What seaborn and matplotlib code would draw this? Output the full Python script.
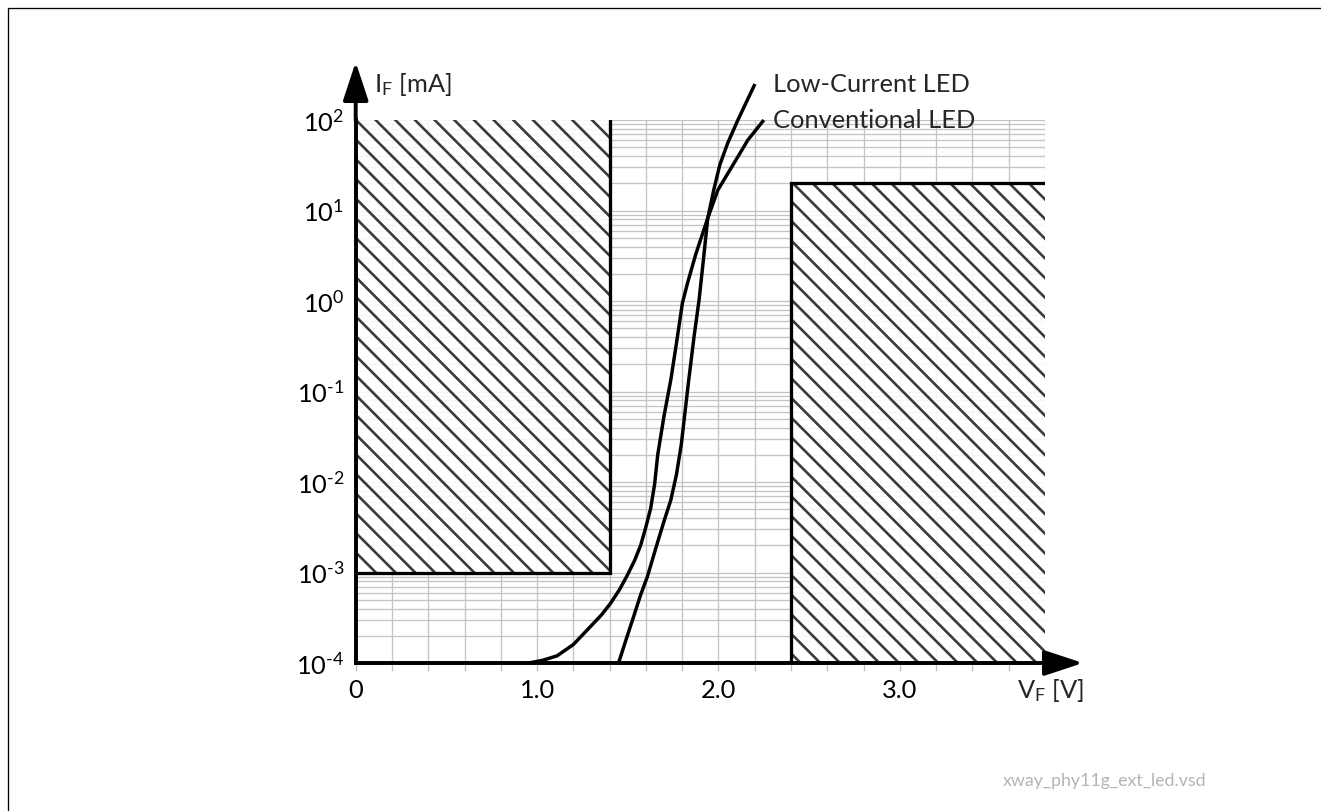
import numpy as np
import pandas as pd
import matplotlib
matplotlib.use("Agg")
import matplotlib.pyplot as plt
from matplotlib.patches import Rectangle
from matplotlib.ticker import MultipleLocator, FixedLocator, LogLocator, NullFormatter
import seaborn as sns

# ---------------- data ----------------
lowcur_V = [1.449, 1.490, 1.532, 1.570, 1.608, 1.663, 1.700, 1.737, 1.768, 1.795, 1.815,
            1.836, 1.865, 1.893, 1.918, 1.941, 1.974, 2.007, 2.051, 2.107, 2.201]
lowcur_mA = [1.0e-4, 1.8e-4, 3.25e-4, 5.6e-4, 9.0e-4, 2.12e-3, 3.7e-3, 6.3e-3, 1.2e-2, 2.6e-2, 5.8e-2,
             0.134, 0.40, 1.03, 3.0, 8.26, 16.9, 31.8, 55.7, 100, 250]

conv_V = [0.954, 1.03, 1.11, 1.20, 1.30, 1.355, 1.405, 1.455, 1.497, 1.537, 1.571, 1.600, 1.626,
          1.648, 1.665, 1.700, 1.737, 1.770, 1.801, 1.829, 1.875, 1.941, 1.997, 2.096, 2.162, 2.250]
conv_mA = [1.0e-4, 1.07e-4, 1.2e-4, 1.6e-4, 2.6e-4, 3.4e-4, 4.57e-4, 6.5e-4, 9.3e-4, 1.35e-3, 2.0e-3,
           3.2e-3, 5.1e-3, 9.5e-3, 2.0e-2, 5.4e-2, 0.134, 0.36, 0.95, 1.57, 3.3, 8.26, 16.9, 36.1, 60.1, 100]

series_names = ["Low-Current LED", "Conventional LED"]

# forbidden regions (V range, mA range)
left_box_V = [0.0, 1.4]
left_box_mA = [1e-3, 1e2]
right_box_V = [2.4, 3.8]
right_box_mA = [1e-4, 20]

x_range = [0.0, 3.8]
y_range = [1e-4, 1e2]
x_major = [0.0, 1.0, 2.0, 3.0]
x_major_labels = ["0", "1.0", "2.0", "3.0"]
y_major = [1e-4, 1e-3, 1e-2, 1e-1, 1e0, 1e1, 1e2]
y_major_labels = [r"$\mathregular{10^{\text{-}4}}$", r"$\mathregular{10^{\text{-}3}}$",
                  r"$\mathregular{10^{\text{-}2}}$", r"$\mathregular{10^{\text{-}1}}$",
                  r"$\mathregular{10^{0}}$", r"$\mathregular{10^{1}}$", r"$\mathregular{10^{2}}$"]

# ---------------- style ----------------
sns.set_theme(style="white")
FONT = "Lato"
plt.rcParams["font.family"] = [FONT, "DejaVu Sans"]
plt.rcParams["mathtext.fontset"] = "custom"
plt.rcParams["mathtext.rm"] = FONT
plt.rcParams["mathtext.it"] = FONT + ":italic"
plt.rcParams["mathtext.bf"] = FONT + ":bold"
plt.rcParams["hatch.linewidth"] = 1.6
plt.rcParams["hatch.color"] = "#3a3a3a"

W, H, DPI = 1321, 811, 118
fig = plt.figure(figsize=(W / DPI, H / DPI), dpi=DPI)
fig.patch.set_facecolor("white")

def fx(px):
    return px / W

def fy(py):
    return 1 - py / H

ax_l, ax_r, ax_t, ax_b = 355.7, 1045.0, 120.0, 663.0
ax = fig.add_axes([fx(ax_l), fy(ax_b), fx(ax_r) - fx(ax_l), (ax_b - ax_t) / H])
ax.set_facecolor("none")
ax.set_yscale("log")
ax.set_xlim(*x_range)
ax.set_ylim(*y_range)

# grid
ax.xaxis.set_major_locator(FixedLocator(x_major))
ax.xaxis.set_minor_locator(MultipleLocator(0.2))
ax.set_xticklabels(x_major_labels)
ax.yaxis.set_major_locator(FixedLocator(y_major))
ax.yaxis.set_minor_locator(LogLocator(base=10, subs=np.arange(2, 10)))
ax.yaxis.set_minor_formatter(NullFormatter())
ax.set_yticklabels(y_major_labels)
ax.grid(True, which="both", color="#c4c4c4", linewidth=0.8, zorder=0)
ax.set_axisbelow(True)

fs = 15.5
ax.tick_params(axis="x", which="both", direction="out", length=5, width=0.8, color="#c0c0c0",
               labelsize=fs, pad=5, bottom=True)
ax.tick_params(axis="y", which="both", length=0, labelsize=fs, pad=7)
for lab in ax.get_xticklabels() + ax.get_yticklabels():
    lab.set_color("black")

for s in ["top", "right"]:
    ax.spines[s].set_visible(False)
for s in ["left", "bottom"]:
    ax.spines[s].set_color("black")
    ax.spines[s].set_linewidth(2.4)
    ax.spines[s].set_zorder(6)

# hatched regions
for bv, bi in [(left_box_V, left_box_mA), (right_box_V, right_box_mA)]:
    ax.add_patch(Rectangle((bv[0], bi[0]), bv[1] - bv[0], bi[1] - bi[0],
                           facecolor=(1, 1, 1, 0.85), edgecolor="#3a3a3a", linewidth=0,
                           hatch="\\\\", zorder=1))

# region outlines
ax.plot([left_box_V[1], left_box_V[1], left_box_V[0]],
        [left_box_mA[1], left_box_mA[0], left_box_mA[0]], color="black", lw=2.0,
        solid_joinstyle="miter", zorder=3)
ax.plot([right_box_V[0], right_box_V[0], right_box_V[1]],
        [right_box_mA[0], right_box_mA[1], right_box_mA[1]], color="black", lw=2.0,
        solid_joinstyle="miter", zorder=3)

# curves
df = pd.concat([
    pd.DataFrame({"V": lowcur_V, "I": lowcur_mA, "LED": series_names[0]}),
    pd.DataFrame({"V": conv_V, "I": conv_mA, "LED": series_names[1]}),
])
sns.lineplot(data=df, x="V", y="I", hue="LED", palette=["black", "black"], sort=False,
             estimator=None, linewidth=2.1, legend=False, ax=ax, zorder=4)
for ln in ax.lines[-2:]:
    ln.set_clip_on(False)
    ln.set_solid_capstyle("butt")
    ln.set_solid_joinstyle("round")
ax.set_xlabel("")
ax.set_ylabel("")

# axis arrows
arrow_kw = dict(arrowstyle="-|>,head_length=1.0,head_width=0.33", color="black", lw=2.4,
                shrinkA=0, shrinkB=0, mutation_scale=20)
ax.annotate("", xy=(fx(1083), fy(ax_b)), xytext=(fx(ax_r - 1), fy(ax_b)),
            xycoords="figure fraction", textcoords="figure fraction", arrowprops=arrow_kw,
            annotation_clip=False)
ax.annotate("", xy=(fx(ax_l), fy(62)), xytext=(fx(ax_l), fy(ax_t + 1)),
            xycoords="figure fraction", textcoords="figure fraction", arrowprops=arrow_kw,
            annotation_clip=False)

# labels
fig.text(fx(374), fy(85), r"$\mathregular{I_F}$ [mA]", fontsize=fs, ha="left", va="center")
fig.text(fx(1017), fy(691), r"$\mathregular{V_F}$ [V]", fontsize=fs, ha="left", va="center")
fig.text(fx(773), fy(85), series_names[0], fontsize=fs, ha="left", va="center")
fig.text(fx(773), fy(120), series_names[1], fontsize=fs, ha="left", va="center")
fig.text(fx(1105), fy(781), "xway_phy11g_ext_led.vsd", fontsize=10.8, ha="center", va="center",
         color="#b4b4b4")

# page frame
fig.add_artist(Rectangle((fx(8), -0.2), 2, fy(8) + 0.2, transform=fig.transFigure,
                         fill=False, edgecolor="black", linewidth=0.8))

fig.savefig("out.png", dpi=DPI, facecolor="white")
